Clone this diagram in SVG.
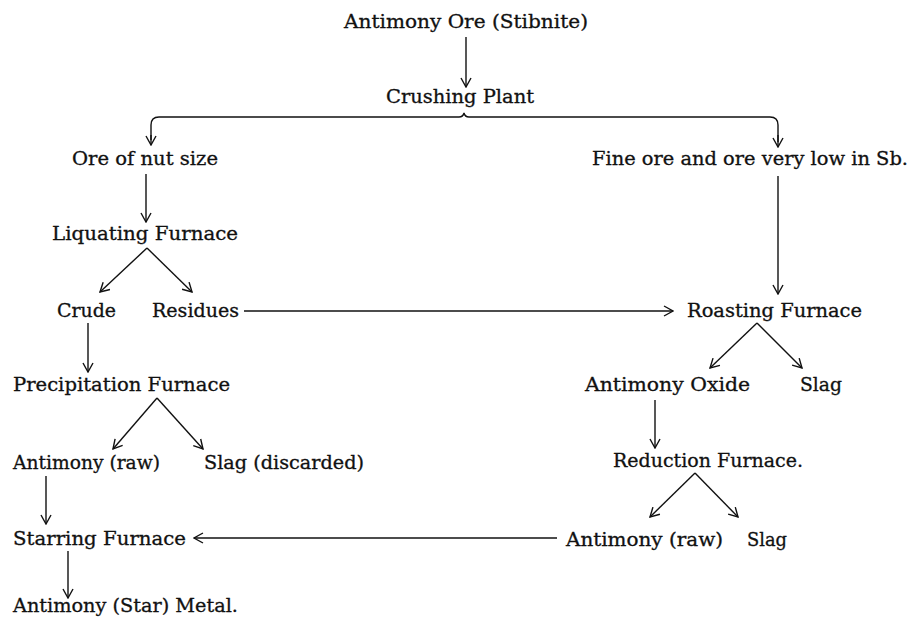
<svg xmlns="http://www.w3.org/2000/svg" width="917" height="621" viewBox="0 0 917 621">
<style>
text{font-family:"DejaVu Serif","Liberation Serif",serif;font-size:18px;fill:#111;stroke:#111;stroke-width:0.3}
.c{stroke:#111;stroke-width:1.4;fill:none}
</style>
<defs>
<marker id="ah" viewBox="0 0 12 12" refX="11" refY="6" markerWidth="12" markerHeight="12" markerUnits="userSpaceOnUse" orient="auto">
<path d="M2,1 L11,6 L2,11" fill="none" stroke="#111" stroke-width="1.4"/>
</marker>
</defs>
<rect width="917" height="621" fill="#fff"/>
<g id="connectors">
<line class="c" x1="466" y1="37" x2="466" y2="87" marker-end="url(#ah)"/>
<path class="c" d="M151,140 L151,125 Q151,117 159,117 L459,117 Q463,117 464,113 Q465,117 469,117 L770,117 Q778,117 778,125 L778,142"/>
<line class="c" x1="151" y1="135" x2="151" y2="145" marker-end="url(#ah)"/>
<line class="c" x1="778" y1="135" x2="778" y2="147" marker-end="url(#ah)"/>
<line class="c" x1="146" y1="174" x2="146" y2="222" marker-end="url(#ah)"/>
<line class="c" x1="778" y1="176" x2="778" y2="294" marker-end="url(#ah)"/>
<line class="c" x1="147" y1="248" x2="100" y2="292" marker-end="url(#ah)"/>
<line class="c" x1="147" y1="248" x2="192" y2="292" marker-end="url(#ah)"/>
<line class="c" x1="244" y1="311" x2="673" y2="311" marker-end="url(#ah)"/>
<line class="c" x1="88" y1="323" x2="88" y2="372" marker-end="url(#ah)"/>
<line class="c" x1="157" y1="398" x2="113" y2="449" marker-end="url(#ah)"/>
<line class="c" x1="157" y1="398" x2="203" y2="449" marker-end="url(#ah)"/>
<line class="c" x1="46" y1="476" x2="46" y2="524" marker-end="url(#ah)"/>
<line class="c" x1="557" y1="538" x2="194" y2="538" marker-end="url(#ah)"/>
<line class="c" x1="68" y1="551" x2="68" y2="598" marker-end="url(#ah)"/>
<line class="c" x1="757" y1="323" x2="710" y2="368" marker-end="url(#ah)"/>
<line class="c" x1="757" y1="323" x2="802" y2="368" marker-end="url(#ah)"/>
<line class="c" x1="655" y1="400" x2="655" y2="448" marker-end="url(#ah)"/>
<line class="c" x1="695" y1="473" x2="650" y2="517" marker-end="url(#ah)"/>
<line class="c" x1="695" y1="473" x2="738" y2="517" marker-end="url(#ah)"/>
</g>
<g id="n-ore"><text x="344" y="28" textLength="244" lengthAdjust="spacingAndGlyphs">Antimony Ore (Stibnite)</text></g>
<g id="n-crushing"><text x="386" y="103" textLength="148" lengthAdjust="spacingAndGlyphs">Crushing Plant</text></g>
<g id="n-nut"><text x="72" y="165" textLength="146" lengthAdjust="spacingAndGlyphs">Ore of nut size</text></g>
<g id="n-fine"><text x="592" y="165" textLength="316" lengthAdjust="spacingAndGlyphs">Fine ore and ore very low in Sb.</text></g>
<g id="n-liquating"><text x="52" y="240" textLength="186" lengthAdjust="spacingAndGlyphs">Liquating Furnace</text></g>
<g id="n-crude"><text x="57" y="317" textLength="59" lengthAdjust="spacingAndGlyphs">Crude</text></g>
<g id="n-residues"><text x="152" y="317" textLength="87" lengthAdjust="spacingAndGlyphs">Residues</text></g>
<g id="n-roasting"><text x="687" y="317" textLength="175" lengthAdjust="spacingAndGlyphs">Roasting Furnace</text></g>
<g id="n-precip"><text x="13" y="391" textLength="217" lengthAdjust="spacingAndGlyphs">Precipitation Furnace</text></g>
<g id="n-oxide"><text x="585" y="391" textLength="165" lengthAdjust="spacingAndGlyphs">Antimony Oxide</text></g>
<g id="n-slag1"><text x="800" y="391" textLength="42" lengthAdjust="spacingAndGlyphs">Slag</text></g>
<g id="n-raw1"><text x="13" y="469" textLength="147" lengthAdjust="spacingAndGlyphs">Antimony (raw)</text></g>
<g id="n-slagdisc"><text x="204" y="469" textLength="160" lengthAdjust="spacingAndGlyphs">Slag (discarded)</text></g>
<g id="n-reduction"><text x="613" y="467" textLength="190" lengthAdjust="spacingAndGlyphs">Reduction Furnace.</text></g>
<g id="n-starring"><text x="13" y="545" textLength="173" lengthAdjust="spacingAndGlyphs">Starring Furnace</text></g>
<g id="n-raw2"><text x="566" y="546" textLength="157" lengthAdjust="spacingAndGlyphs">Antimony (raw)</text></g>
<g id="n-slag2"><text x="747" y="546" textLength="40" lengthAdjust="spacingAndGlyphs">Slag</text></g>
<g id="n-star"><text x="13" y="612" textLength="225" lengthAdjust="spacingAndGlyphs">Antimony (Star) Metal.</text></g>
</svg>
